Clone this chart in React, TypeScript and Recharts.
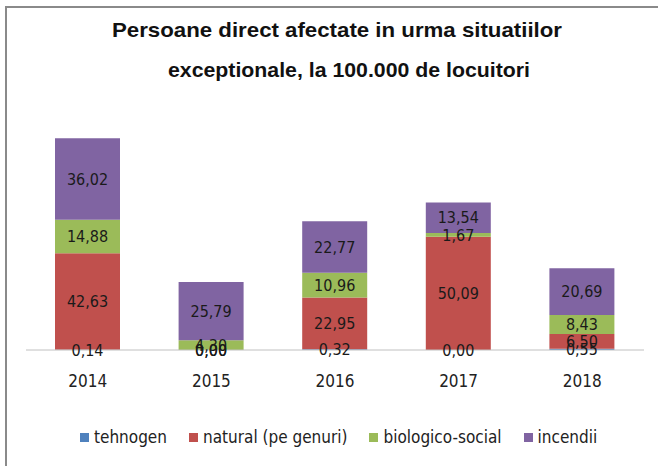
import { BarChart, Bar, XAxis, YAxis, LabelList } from "recharts";

const years = ["2014", "2015", "2016", "2017", "2018"];
const tehnogen = [0.14, 0.0, 0.32, 0.0, 0.55];
const natural = [42.63, 0.0, 22.95, 50.09, 6.5];
const biologic = [14.88, 4.3, 10.96, 1.67, 8.43];
const incendii = [36.02, 25.79, 22.77, 13.54, 20.69];

const seriesNames = ["tehnogen", "natural (pe genuri)", "biologico-social", "incendii"];
const colors = ["#4F81BD", "#C0504D", "#9BBB59", "#8064A2"];

const data = years.map((year, i) => ({
  year,
  tehnogen: tehnogen[i],
  natural: natural[i],
  biologic: biologic[i],
  incendii: incendii[i],
}));

const keys = ["tehnogen", "natural", "biologic", "incendii"];
const FONT = "'Liberation Sans Narrow', 'DejaVu Sans Condensed', 'Liberation Sans', sans-serif";

const fmt = (v: number) => Number(v).toFixed(2).replace(".", ",");

function LegendBox() {
  return (
    <div
      style={{
        position: "absolute",
        left: 80,
        top: 427,
        display: "flex",
        gap: 22,
        fontFamily: FONT,
        fontSize: 17,
        color: "#222",
        alignItems: "center",
      }}
    >
      {seriesNames.map((name, i) => (
        <div key={name} style={{ display: "flex", alignItems: "center" }}>
          <span
            style={{ width: 9, height: 9, background: colors[i], display: "inline-block", marginRight: 5 }}
          />
          <span>{name}</span>
        </div>
      ))}
    </div>
  );
}

export default function App() {
  return (
    <div
      style={{
        position: "absolute",
        left: 0,
        top: 0,
        width: 658,
        height: 466,
        overflow: "hidden",
        background: "#fff",
      }}
    >
      <div
        style={{
          position: "absolute",
          left: 5,
          top: 6,
          width: 700,
          height: 500,
          borderTop: "2px solid #8a8a8a",
          borderLeft: "2px solid #8a8a8a",
        }}
      />
      <svg width={658} height={100} style={{ position: "absolute", left: 0, top: 0 }}>
        <text
          x={112}
          y={37}
          textLength={450}
          lengthAdjust="spacingAndGlyphs"
          fontFamily="'Liberation Sans', sans-serif"
          fontWeight="bold"
          fontSize={21}
          fill="#111"
        >
          Persoane direct afectate in urma situatiilor
        </text>
        <text
          x={168}
          y={77}
          textLength={362}
          lengthAdjust="spacingAndGlyphs"
          fontFamily="'Liberation Sans', sans-serif"
          fontWeight="bold"
          fontSize={21}
          fill="#111"
        >
          exceptionale, la 100.000 de locuitori
        </text>
      </svg>
      <div style={{ position: "absolute", left: 0, top: 0 }}>
        <BarChart
          width={658}
          height={466}
          data={data}
          margin={{ top: 124, right: 14, bottom: 86, left: 26 }}
          barSize={65}
        >
          <XAxis
            dataKey="year"
            tickLine={false}
            axisLine={{ stroke: "#c0c0c0" }}
            tick={{ fontFamily: FONT, fontSize: 17, fill: "#222" }}
            tickMargin={19}
          />
          <YAxis hide domain={[0, 100]} />
          {keys.map((k, i) => (
            <Bar
              key={k}
              dataKey={k}
              stackId="a"
              fill={colors[i]}
              minPointSize={0.01}
              isAnimationActive={false}
            >
              <LabelList
                dataKey={k}
                position="center"
                formatter={(v: number) => fmt(v)}
                style={{ fontFamily: FONT, fontSize: 16, fill: "#1a1a1a" }}
              />
            </Bar>
          ))}
        </BarChart>
      </div>
      <LegendBox />
    </div>
  );
}
